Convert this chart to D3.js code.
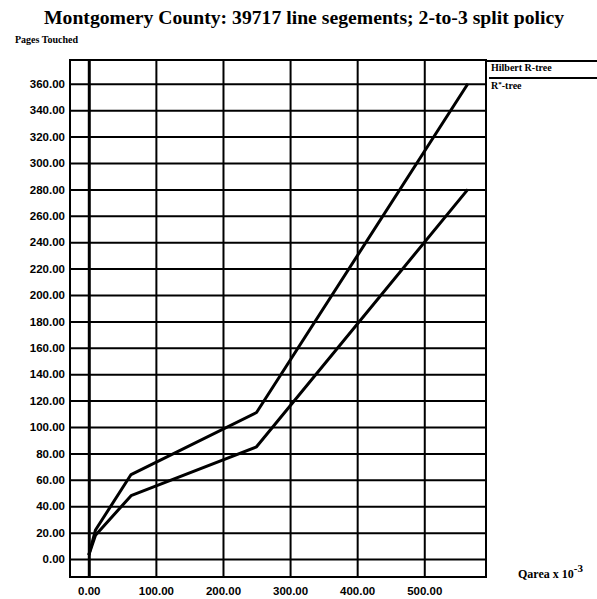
<!DOCTYPE html>
<html>
<head>
<meta charset="utf-8">
<script src="https://cdn.jsdelivr.net/npm/d3@7"></script>
<style>
  body { margin: 0; background: #fff; }
  svg { font-family: "Liberation Serif", "Times New Roman", serif; font-weight: bold; }
  .tick text { font-size: 11.5px; fill: #000; }
</style>
</head>
<body>
<svg id="chart" width="597" height="599"></svg>
<script>
// query area (x 10^-3)
const queryArea = [0, 10, 63, 250, 565];
const hilbertPages = [3, 22, 64, 111, 360];
const rstarPages = [3, 18, 48, 85, 280];
const xTicks = [0, 100, 200, 300, 400, 500];
const yTicks = d3.range(0, 361, 20);

const plotLeft = 70;
const plotRight = 486;
const plotTop = 60;
const plotBottom = 577;

const svg = d3.select('#chart');

const xScale = d3.scaleLinear()
  .domain([-28, 592])
  .range([plotLeft, plotRight]);

const yScale = d3.scaleLinear()
  .domain([-13.6, 378])
  .range([plotBottom, plotTop]);

// title
svg.append('text')
  .text('Montgomery County: 39717 line segements; 2-to-3 split policy')
  .attr('x', 304)
  .attr('y', 24)
  .attr('text-anchor', 'middle')
  .attr('font-size', 19.7);

svg.append('text')
  .text('Pages Touched')
  .attr('x', 15)
  .attr('y', 43)
  .attr('font-size', 10);

// grid + tick labels
const leftAxis = d3.axisLeft(yScale)
  .tickValues(yTicks)
  .tickFormat(d3.format('.2f'))
  .tickSizeInner(-(plotRight - plotLeft))
  .tickSizeOuter(0)
  .tickPadding(5);

const yAxis = svg.append('g')
  .attr('transform', `translate(${plotLeft}, 0)`)
  .call(leftAxis);
yAxis.select('.domain').remove();
yAxis.selectAll('.tick line').attr('stroke', '#000').attr('stroke-width', 2);

const bottomAxis = d3.axisBottom(xScale)
  .tickValues(xTicks)
  .tickFormat(d3.format('.2f'))
  .tickSizeInner(-(plotBottom - plotTop))
  .tickSizeOuter(0)
  .tickPadding(10);

const xAxis = svg.append('g')
  .attr('transform', `translate(0, ${plotBottom})`)
  .call(bottomAxis);
xAxis.select('.domain').remove();
xAxis.selectAll('.tick line')
  .attr('stroke', '#000')
  .attr('stroke-width', (d) => (d === 0 ? 3 : 2));

// frame
svg.append('rect')
  .attr('x', plotLeft)
  .attr('y', plotTop)
  .attr('width', plotRight - plotLeft)
  .attr('height', plotBottom - plotTop)
  .attr('fill', 'none')
  .attr('stroke', '#000')
  .attr('stroke-width', 2);

// series
const line = d3.line()
  .x((d) => xScale(d[0]))
  .y((d) => yScale(d[1]));

[hilbertPages, rstarPages].forEach((series) => {
  svg.append('path')
    .datum(queryArea.map((q, i) => [q, series[i]]))
    .attr('d', line)
    .attr('fill', 'none')
    .attr('stroke', '#000')
    .attr('stroke-width', 3)
    .attr('stroke-linejoin', 'round');
});

// legend
const legend = svg.append('g').attr('font-size', 10);
legend.append('line')
  .attr('x1', 487).attr('x2', 597)
  .attr('y1', 61).attr('y2', 61)
  .attr('stroke', '#000').attr('stroke-width', 2);
legend.append('text')
  .text('Hilbert R-tree')
  .attr('x', 491)
  .attr('y', 71);
legend.append('line')
  .attr('x1', 489).attr('x2', 597)
  .attr('y1', 78).attr('y2', 78)
  .attr('stroke', '#000').attr('stroke-width', 2);
const rs = legend.append('text')
  .attr('x', 491)
  .attr('y', 89);
rs.append('tspan').text('R');
rs.append('tspan').text('*').attr('dy', -3).attr('font-size', 7);
rs.append('tspan').text('-tree').attr('dy', 3);

// x axis label
const xl = svg.append('text')
  .attr('x', 518)
  .attr('y', 578)
  .attr('font-size', 12);
xl.append('tspan').text('Qarea x 10');
xl.append('tspan').text('-3').attr('dy', -6).attr('font-size', 11);
</script>
</body>
</html>
